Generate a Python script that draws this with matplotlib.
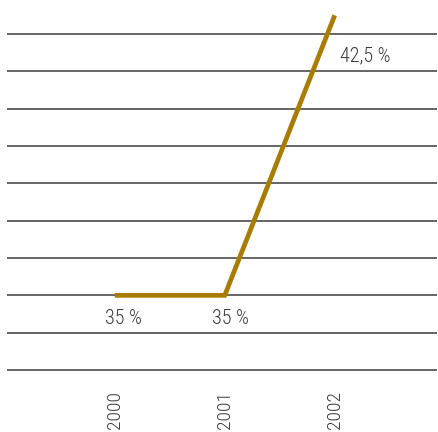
import matplotlib.pyplot as plt

years = [2000, 2001, 2002]
rates = [35.0, 35.0, 42.5]
labels = ["35 %", "35 %", "42,5 %"]
grid_levels = list(range(33, 43))

plt.rcParams["font.family"] = ["Roboto Condensed", "DejaVu Sans"]
plt.rcParams["font.weight"] = "light"

fig = plt.figure(figsize=(4.38, 4.32), dpi=100)
ax = fig.add_axes([7 / 438, 1 - 372 / 432, 430 / 438, 372 / 432])

for lvl in grid_levels:
    ax.axhline(lvl, color="#3c3c3c", lw=1.1, zorder=1)

ax.plot(years, rates, color="#a87c00", lw=3.4, solid_capstyle="butt",
        solid_joinstyle="miter", zorder=3)

# value labels
offsets = [(-7, -10), (-9, -10), (4, -22)]
for x, y, txt, off in zip(years, rates, labels, offsets):
    ax.annotate(txt, (x, y), xytext=off, textcoords="offset points",
                ha="left", va="top", fontsize=14.5, color="#3a3a3a")

ax.set_xlim(1999.02, 2002.93)
ax.set_ylim(33 - 2 / 37.33, 33 + 370 / 37.33)
ax.set_xticks(years)
ax.set_xticklabels([str(y) for y in years], rotation=90, fontsize=14,
                   color="#3a3a3a")
ax.tick_params(axis="x", length=0, pad=14)
ax.set_yticks([])
for s in ax.spines.values():
    s.set_visible(False)

fig.savefig("out.png", dpi=100)
